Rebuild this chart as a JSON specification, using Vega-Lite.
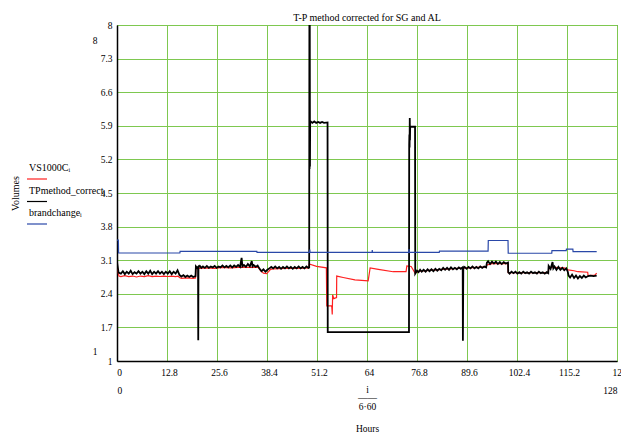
{
 "$schema": "https://vega.github.io/schema/vega-lite/v6.json",
 "width": 500,
 "height": 336,
 "autosize": {"type": "none"},
 "padding": {"left": 117, "top": 25, "right": 4, "bottom": 73},
 "background": "white",
 "title": {"text": "T-P method corrected for SG and AL", "fontSize": 10, "fontWeight": "normal", "font": "Liberation Serif", "anchor": "middle", "offset": 4, "dy": 7, "color": "#000"},
 "config": {"font": "Liberation Serif", "view": {"stroke": "#333", "strokeWidth": 1}},
 "datasets": {
  "vs": [
   {"x":0,"y":3.0},{"x":0.3,"y":2.84},{"x":0.5,"y":2.77},{"x":1,"y":2.76},{"x":2,"y":2.78},{"x":3,"y":2.76},{"x":4,"y":2.77},{"x":5,"y":2.75},{"x":6,"y":2.77},{"x":7,"y":2.76},{"x":8,"y":2.78},{"x":9,"y":2.76},{"x":10,"y":2.77},{"x":11,"y":2.76},{"x":12,"y":2.77},{"x":13,"y":2.76},{"x":14,"y":2.77},{"x":15,"y":2.76},{"x":15.6,"y":2.77},{"x":16,"y":2.74},{"x":16.5,"y":2.72},{"x":18,"y":2.73},{"x":19.5,"y":2.72},{"x":20.1,"y":2.73},{"x":20.2,"y":2.93},{"x":21,"y":2.93},{"x":23,"y":2.94},{"x":25,"y":2.93},{"x":27,"y":2.95},{"x":29,"y":2.94},{"x":31,"y":2.95},{"x":33,"y":2.95},{"x":35,"y":2.95},{"x":36.2,"y":2.95},{"x":36.8,"y":2.88},{"x":37.5,"y":2.83},{"x":38.3,"y":2.82},{"x":38.8,"y":2.86},{"x":39.3,"y":2.91},{"x":40,"y":2.92},{"x":43,"y":2.93},{"x":46,"y":2.93},{"x":49.1,"y":2.94},{"x":49.2,"y":3.02},{"x":51.1,"y":2.97},{"x":53.6,"y":2.94},{"x":53.7,"y":2.15},{"x":54.9,"y":2.15},{"x":55.0,"y":2.12},{"x":55.1,"y":1.97},{"x":55.2,"y":2.38},{"x":55.5,"y":2.3},{"x":55.8,"y":2.31},{"x":56.2,"y":2.32},{"x":56.25,"y":2.77},{"x":57.9,"y":2.74},{"x":60.9,"y":2.69},{"x":64.3,"y":2.67},{"x":64.8,"y":2.94},{"x":66.9,"y":2.91},{"x":70.7,"y":2.86},{"x":74.0,"y":2.86},{"x":74.2,"y":2.98},{"x":75.3,"y":2.97},{"x":75.8,"y":2.9},{"x":76.3,"y":2.83},{"x":77.1,"y":2.87},{"x":80,"y":2.89},{"x":85,"y":2.92},{"x":90,"y":2.94},{"x":94.5,"y":2.96},{"x":94.7,"y":3.0},{"x":96,"y":3.03},{"x":98,"y":3.03},{"x":100.1,"y":3.03},{"x":100.15,"y":2.84},{"x":105,"y":2.84},{"x":110.4,"y":2.84},{"x":110.5,"y":2.92},{"x":111.5,"y":2.96},{"x":113,"y":2.94},{"x":114.5,"y":2.94},{"x":115.5,"y":2.9},{"x":117,"y":2.88},{"x":118,"y":2.86},{"x":120.5,"y":2.85},{"x":120.6,"y":2.78},{"x":122.3,"y":2.79},{"x":122.8,"y":2.83}
  ],
  "tp": [
   {"x":0,"y":3.06},{"x":0.2,"y":2.95},{"x":0.4,"y":2.84},{"x":1,"y":2.82},{"x":1.5,"y":2.87},{"x":2,"y":2.81},{"x":2.5,"y":2.86},{"x":3,"y":2.82},{"x":3.5,"y":2.88},{"x":4,"y":2.81},{"x":4.5,"y":2.85},{"x":5,"y":2.82},{"x":5.5,"y":2.87},{"x":6,"y":2.82},{"x":6.5,"y":2.86},{"x":7,"y":2.81},{"x":7.5,"y":2.87},{"x":8,"y":2.82},{"x":8.5,"y":2.88},{"x":9,"y":2.81},{"x":9.5,"y":2.86},{"x":10,"y":2.82},{"x":10.5,"y":2.87},{"x":11,"y":2.82},{"x":11.5,"y":2.86},{"x":12,"y":2.81},{"x":12.5,"y":2.86},{"x":13,"y":2.82},{"x":13.5,"y":2.87},{"x":14,"y":2.81},{"x":14.5,"y":2.86},{"x":15,"y":2.82},{"x":15.5,"y":2.89},{"x":16,"y":2.79},{"x":16.5,"y":2.76},{"x":17,"y":2.79},{"x":17.5,"y":2.75},{"x":18,"y":2.78},{"x":18.5,"y":2.75},{"x":19,"y":2.78},{"x":19.5,"y":2.75},{"x":20.1,"y":2.77},{"x":20.2,"y":2.97},{"x":20.5,"y":2.94},{"x":20.75,"y":2.96},{"x":20.8,"y":1.43},{"x":20.85,"y":2.95},{"x":21.2,"y":2.98},{"x":21.6,"y":2.94},{"x":22,"y":2.97},{"x":22.5,"y":2.94},{"x":23,"y":2.98},{"x":23.5,"y":2.94},{"x":24,"y":2.97},{"x":24.5,"y":2.95},{"x":25,"y":2.98},{"x":25.5,"y":2.94},{"x":26,"y":2.97},{"x":26.5,"y":2.95},{"x":27,"y":2.99},{"x":27.5,"y":2.95},{"x":28,"y":2.98},{"x":28.5,"y":2.95},{"x":29,"y":2.99},{"x":29.5,"y":2.95},{"x":30,"y":2.99},{"x":30.5,"y":2.96},{"x":31,"y":3.0},{"x":31.5,"y":2.96},{"x":31.9,"y":3.15},{"x":32.1,"y":2.97},{"x":32.5,"y":3.0},{"x":33,"y":2.96},{"x":33.5,"y":3.02},{"x":34,"y":2.97},{"x":34.5,"y":3.08},{"x":34.7,"y":2.97},{"x":35,"y":3.0},{"x":35.5,"y":2.96},{"x":36,"y":2.99},{"x":36.5,"y":2.92},{"x":37,"y":2.87},{"x":37.5,"y":2.91},{"x":38,"y":2.86},{"x":38.5,"y":2.9},{"x":39,"y":2.93},{"x":39.5,"y":2.96},{"x":40,"y":2.93},{"x":40.5,"y":2.97},{"x":41,"y":2.93},{"x":41.5,"y":2.96},{"x":42,"y":2.92},{"x":42.5,"y":2.96},{"x":43,"y":2.93},{"x":43.5,"y":2.97},{"x":44,"y":2.93},{"x":44.5,"y":2.96},{"x":45,"y":2.92},{"x":45.5,"y":2.96},{"x":46,"y":2.93},{"x":46.5,"y":2.97},{"x":47,"y":2.93},{"x":47.5,"y":2.96},{"x":48,"y":2.93},{"x":48.5,"y":2.97},{"x":49,"y":2.94},{"x":49.2,"y":2.95},{"x":49.25,"y":8},{"x":49.3,"y":5.0},{"x":49.35,"y":8},{"x":49.4,"y":5.05},{"x":49.45,"y":6.0},{"x":50,"y":5.96},{"x":50.5,"y":5.99},{"x":51,"y":5.96},{"x":51.5,"y":5.98},{"x":52,"y":5.96},{"x":52.5,"y":5.98},{"x":53,"y":5.96},{"x":53.9,"y":5.97},{"x":53.95,"y":1.6},{"x":74.75,"y":1.6},{"x":74.8,"y":5.5},{"x":74.85,"y":5.72},{"x":74.9,"y":5.45},{"x":74.95,"y":6.06},{"x":75.0,"y":5.6},{"x":75.05,"y":5.88},{"x":76.3,"y":5.88},{"x":76.35,"y":2.82},{"x":76.8,"y":2.88},{"x":77.2,"y":2.85},{"x":77.6,"y":2.9},{"x":78,"y":2.86},{"x":78.5,"y":2.9},{"x":79,"y":2.86},{"x":79.5,"y":2.91},{"x":80,"y":2.87},{"x":80.5,"y":2.91},{"x":81,"y":2.87},{"x":81.5,"y":2.92},{"x":82,"y":2.88},{"x":82.5,"y":2.92},{"x":83,"y":2.89},{"x":83.5,"y":2.94},{"x":84,"y":2.9},{"x":84.5,"y":2.94},{"x":85,"y":2.9},{"x":85.5,"y":2.95},{"x":86,"y":2.91},{"x":86.5,"y":2.94},{"x":87,"y":2.91},{"x":87.5,"y":2.95},{"x":88,"y":2.92},{"x":88.5,"y":2.95},{"x":88.55,"y":1.42},{"x":88.65,"y":2.93},{"x":89,"y":2.96},{"x":89.5,"y":2.92},{"x":90,"y":2.96},{"x":90.5,"y":2.93},{"x":91,"y":2.97},{"x":91.5,"y":2.93},{"x":92,"y":2.96},{"x":92.5,"y":2.93},{"x":93,"y":2.97},{"x":93.5,"y":2.94},{"x":94,"y":2.97},{"x":94.5,"y":2.95},{"x":94.7,"y":3.05},{"x":95,"y":3.08},{"x":95.5,"y":3.02},{"x":96,"y":3.07},{"x":96.5,"y":3.03},{"x":97,"y":3.07},{"x":97.5,"y":3.02},{"x":98,"y":3.06},{"x":98.5,"y":3.02},{"x":99,"y":3.06},{"x":99.5,"y":3.03},{"x":100.1,"y":3.05},{"x":100.15,"y":2.85},{"x":100.5,"y":2.82},{"x":101,"y":2.86},{"x":101.5,"y":2.83},{"x":102,"y":2.86},{"x":102.5,"y":2.82},{"x":103,"y":2.85},{"x":103.5,"y":2.82},{"x":104,"y":2.86},{"x":104.5,"y":2.83},{"x":105,"y":2.85},{"x":105.5,"y":2.82},{"x":106,"y":2.86},{"x":106.5,"y":2.83},{"x":107,"y":2.85},{"x":107.5,"y":2.82},{"x":108,"y":2.86},{"x":108.5,"y":2.83},{"x":109,"y":2.85},{"x":109.5,"y":2.82},{"x":110,"y":2.85},{"x":110.4,"y":2.83},{"x":110.5,"y":2.98},{"x":111,"y":2.92},{"x":111.5,"y":3.06},{"x":111.7,"y":2.93},{"x":112,"y":2.97},{"x":112.5,"y":2.9},{"x":113,"y":2.96},{"x":113.5,"y":2.9},{"x":114,"y":2.94},{"x":114.5,"y":2.89},{"x":115,"y":2.93},{"x":115.4,"y":2.86},{"x":115.6,"y":2.78},{"x":116,"y":2.74},{"x":116.5,"y":2.8},{"x":117,"y":2.73},{"x":117.5,"y":2.78},{"x":118,"y":2.72},{"x":118.5,"y":2.77},{"x":119,"y":2.73},{"x":119.5,"y":2.78},{"x":120,"y":2.74},{"x":120.6,"y":2.77},{"x":121.2,"y":2.78},{"x":122,"y":2.77},{"x":122.8,"y":2.78}
  ],
  "bc": [
   {"x":0,"y":3.52},{"x":0.35,"y":3.52},{"x":0.4,"y":3.25},{"x":16.1,"y":3.25},{"x":16.15,"y":3.285},{"x":35.8,"y":3.285},{"x":35.85,"y":3.265},{"x":49.3,"y":3.265},{"x":49.35,"y":3.32},{"x":49.4,"y":3.265},{"x":65.3,"y":3.265},{"x":65.35,"y":3.31},{"x":65.4,"y":3.265},{"x":74.7,"y":3.265},{"x":74.75,"y":3.33},{"x":74.85,"y":3.265},{"x":82.5,"y":3.265},{"x":82.55,"y":3.29},{"x":95.0,"y":3.29},{"x":95.05,"y":3.51},{"x":100.1,"y":3.51},{"x":100.15,"y":3.245},{"x":111.3,"y":3.245},{"x":111.35,"y":3.3},{"x":115,"y":3.3},{"x":115.05,"y":3.33},{"x":116.7,"y":3.33},{"x":116.75,"y":3.28},{"x":122.8,"y":3.28}
  ]
 },
 "layer": [
  {
   "data": {"name": "vs"},
   "mark": {"type": "line", "strokeWidth": 1.2, "clip": true},
   "encoding": {
    "x": {"field": "x", "type": "quantitative", "scale": {"domain": [0, 128], "nice": false, "zero": false},
      "axis": {"values": [0, 12.8, 25.6, 38.4, 51.2, 64, 76.8, 89.6, 102.4, 115.2, 128], "format": ".6~g", "grid": true, "gridColor": "#7ec850", "gridWidth": 1, "gridOpacity": 1, "domainColor": "#000", "domainWidth": 1.5, "ticks": false, "labelFontSize": 9.5, "labelColor": "#000", "labelPadding": 6, "labelOffset": 2, "labelFlush": false, "labelOverlap": false, "title": ["i", "——", "6·60"], "titleFontSize": 9.5, "titleFontWeight": "normal", "titleColor": "#000", "titleLineHeight": 8.5, "titleY": 23, "titleBaseline": "top"}},
    "y": {"field": "y", "type": "quantitative", "scale": {"domain": [1, 8], "nice": false, "zero": false},
      "axis": {"values": [1, 1.7, 2.4, 3.1, 3.8, 4.5, 5.2, 5.9, 6.6, 7.3, 8], "format": ".6~g", "grid": true, "gridColor": "#7ec850", "gridWidth": 1, "gridOpacity": 1, "domainColor": "#000", "domainWidth": 1.5, "ticks": false, "labelFontSize": 9.5, "labelColor": "#000", "labelPadding": 5, "labelOverlap": false, "title": "Volumes", "titleX": -102, "titleY": 168, "titleAngle": -90, "titleAlign": "center", "titleBaseline": "middle", "titleFontSize": 10, "titleFontWeight": "normal", "titleColor": "#000"}},
    "color": {"datum": "VS1000Cᵢ", "type": "nominal",
      "scale": {"domain": ["VS1000Cᵢ", "TPmethod_correctᵢ", "brandchangeᵢ"], "range": ["#ff2020", "#000000", "#2a48a8"]},
      "legend": {"orient": "none", "legendX": -91, "legendY": 143, "title": null, "symbolType": "stroke", "symbolSize": 400, "symbolStrokeWidth": 1.2, "labelFontSize": 10, "labelColor": "#000", "labelOffset": -19, "labelBaseline": "alphabetic", "labelLimit": 200, "rowPadding": 3.5, "encode": {"labels": {"update": {"dy": {"value": -8}}}}}}
   }
  },
  {
   "data": {"name": "tp"},
   "mark": {"type": "line", "strokeWidth": 1.8, "clip": true},
   "encoding": {
    "x": {"field": "x", "type": "quantitative", "axis": null},
    "y": {"field": "y", "type": "quantitative", "axis": null},
    "color": {"datum": "TPmethod_correctᵢ", "type": "nominal"}
   }
  },
  {
   "data": {"name": "bc"},
   "mark": {"type": "line", "strokeWidth": 1.2, "clip": true},
   "encoding": {
    "x": {"field": "x", "type": "quantitative",
      "axis": {"orient": "bottom", "values": [0, 128], "format": ".6~g", "domain": false, "ticks": false, "grid": false, "labelPadding": 24, "labelFontSize": 9.5, "labelColor": "#000", "labelFlush": false, "labelOverlap": false, "labelAlign": {"condition": {"test": "datum.value == 0", "value": "left"}, "value": "right"}, "title": "Hours", "titleY": 62, "titleBaseline": "top", "titleFontSize": 9.5, "titleFontWeight": "normal", "titleColor": "#000"}},
    "y": {"field": "y", "type": "quantitative",
      "axis": {"orient": "left", "values": [1, 8], "format": ".6~g", "domain": false, "ticks": false, "grid": false, "labelPadding": 20, "labelFontSize": 9.5, "labelColor": "#000", "labelOverlap": false, "labelOffset": {"condition": {"test": "datum.value == 8", "value": 15}, "value": -10}, "title": null}},
    "color": {"datum": "brandchangeᵢ", "type": "nominal"}
   }
  }
 ],
 "resolve": {"axis": {"x": "independent", "y": "independent"}}
}
